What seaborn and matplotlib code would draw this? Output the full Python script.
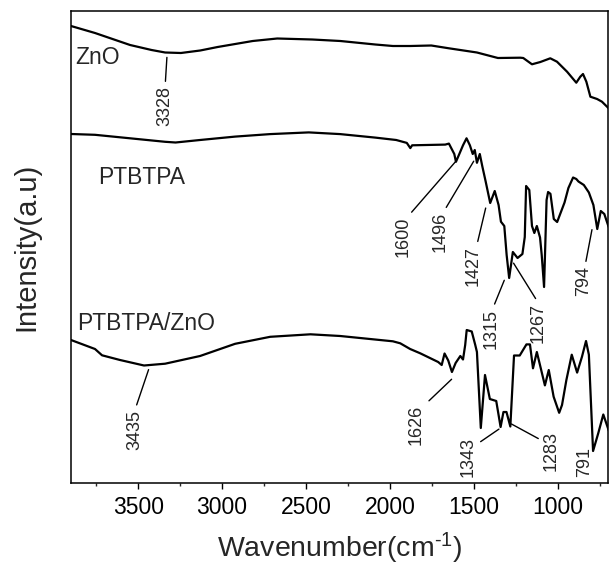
import numpy as np
import pandas as pd
import matplotlib
matplotlib.use("Agg")
import matplotlib.pyplot as plt
from matplotlib.ticker import MultipleLocator
import seaborn as sns

# FTIR spectra (wavenumber in cm^-1, stacked intensity in a.u.)
zno_wn = [3900, 3757, 3548, 3420, 3339, 3245, 3130, 3026, 2817, 2671, 2462, 2295,
          2087, 1982, 1878, 1753, 1648, 1481, 1356, 1223, 1205, 1153, 1103, 1044,
          1004, 944, 889, 865, 849, 829, 805, 765, 736, 696]
zno_int = [457, 450, 438, 433, 430.5, 430, 432.5, 436, 442, 444.5, 443.5, 442,
           438.5, 437, 437, 437.5, 434.7, 430.5, 425, 425.3, 425, 418.7, 421, 424.7,
           421.3, 411.3, 400.3, 406.3, 409, 401.3, 386.3, 384, 381.3, 374.7]

ptbtpa_wn = [3900, 3757, 3548, 3339, 3277, 3131, 2922, 2713, 2483, 2296, 2087, 1962,
             1899, 1878, 1867, 1670, 1648, 1616, 1606, 1586, 1564, 1543, 1523, 1506,
             1494, 1481, 1464, 1449, 1429, 1402, 1375, 1352, 1338, 1318, 1304, 1289,
             1267, 1239, 1210, 1196, 1188, 1169, 1153, 1139, 1124, 1105, 1095, 1081,
             1066, 1057, 1043, 1023, 1003, 959, 936, 908, 889, 876, 844, 814,
             787, 764, 743, 722, 696]
ptbtpa_int = [349, 348.2, 344.7, 341.2, 340.5, 343, 346.4, 348.9, 350.6, 348.9, 345.4, 343,
              340.1, 334.9, 337.7, 338.4, 339.4, 329, 321.2, 329, 337.7, 344.7, 337.7, 329,
              333, 320.2, 329, 316.7, 301.5, 280, 292, 278, 261.3, 257, 228, 205,
              231, 225, 229, 246, 297, 293, 257, 250, 257, 245.5, 228, 196,
              283, 291, 289.2, 264, 261, 280.5, 295, 305.5, 304, 301.5, 298, 290.5,
              278, 254, 272, 269, 256]

composite_wn = [3900, 3757, 3715, 3608, 3465, 3339, 3131, 2922, 2713, 2473, 2296, 1982,
                1938, 1879, 1819, 1712, 1691, 1674, 1652, 1630, 1608, 1580, 1564, 1551,
                1542, 1512, 1491, 1481, 1458, 1433, 1404, 1366, 1340, 1323, 1305, 1282,
                1260, 1226, 1186, 1165, 1147, 1124, 1076, 1053, 1024, 991, 974, 948,
                916, 884, 855, 831, 814, 789, 758, 728, 695]
composite_int = [143, 134, 127.7, 123, 117.5, 119.3, 127, 139.2, 146.2, 148.7, 147, 141.7,
                 139.7, 134, 129.7, 121, 118, 129.5, 122.5, 111, 120, 127, 123.5, 138,
                 153, 151.5, 138, 131, 55, 108, 84, 82, 56, 71, 71, 56.5,
                 127.5, 127.5, 138.6, 138.6, 114.7, 131, 97.6, 113, 86.3, 70.2, 78, 103,
                 128.3, 110.4, 126.3, 142, 128.3, 32, 49.8, 68.5, 52.2]

sample_names = ["ZnO", "PTBTPA", "PTBTPA/ZnO"]

# Peak labels: text, peak wavenumber, intensity at the pointed spot,
# label centre (wavenumber, intensity) and where the leader leaves the label
peak_labels = ["3328", "1600", "1496", "1427", "1315", "1267", "794",
               "3435", "1626", "1343", "1283", "791"]
peak_wn = [3328, 1600, 1496, 1427, 1315, 1267, 794, 3435, 1626, 1343, 1283, 791]
peak_int = [427, 323, 323, 276.3, 204, 221, 254.7, 114.7, 104.7, 54.7, 59.7, 32]
label_wn = [3339, 1923, 1700, 1503, 1397, 1115, 847, 3518, 1843, 1536, 1038, 841]
label_int = [377, 246.3, 251, 217, 154.4, 160, 202, 53.5, 58, 26.3, 32, 21.3]
leader_from = [(0.5, 1), (0.8, 1), (0.7, 1), (0.7, 1), (0.6, 1), (0.5, 1), (0.6, 1),
               (0.5, 1), (1, 1), (1, 0.8), (0, 0.75), None]

frames = []
for name, wn, inten in zip(sample_names,
                           [zno_wn, ptbtpa_wn, composite_wn],
                           [zno_int, ptbtpa_int, composite_int]):
    frames.append(pd.DataFrame({"wavenumber": wn, "intensity": inten, "sample": name}))
spectra = pd.concat(frames, ignore_index=True)

sns.set_theme(style="ticks")
plt.rcParams["font.family"] = ["Liberation Sans", "DejaVu Sans"]
plt.rcParams["mathtext.fontset"] = "custom"
plt.rcParams["mathtext.rm"] = "Liberation Sans"
plt.rcParams["mathtext.default"] = "regular"

fig = plt.figure(figsize=(6.09, 5.68), dpi=100)
ax = fig.add_axes([71 / 609, 85 / 568, 537 / 609, 472 / 568])

sns.lineplot(data=spectra, x="wavenumber", y="intensity", hue="sample",
             units="sample", estimator=None, sort=False,
             palette=["black"] * 3, linewidth=1.6, legend=False, ax=ax)

ax.set_xlim(3900, 700)
ax.set_ylim(0, 472)
ax.set_yticks([])
ax.xaxis.set_major_locator(MultipleLocator(500))
ax.xaxis.set_minor_locator(MultipleLocator(250))
ax.tick_params(axis="x", which="major", direction="out", length=4.5, width=1,
               labelsize=16.5, pad=5, colors="black")
ax.tick_params(axis="x", which="minor", direction="out", length=2.5, width=1)
for side in ["left", "right", "top", "bottom"]:
    ax.spines[side].set_visible(True)
    ax.spines[side].set_color("black")
    ax.spines[side].set_linewidth(1.1)

ax.set_xlabel(r"Wavenumber(cm$^{\text{-}1}$)", fontsize=20.5, labelpad=8)
ax.set_ylabel("Intensity(a.u)", fontsize=21, labelpad=22)

# sample names
ax.text(3876, 426, "ZnO", fontsize=16.5, ha="left", va="center")
ax.text(3739, 306, "PTBTPA", fontsize=16.5, ha="left", va="center")
ax.text(3861, 160, "PTBTPA/ZnO", fontsize=16.5, ha="left", va="center")

# peak annotations
for txt, px, py, tx, ty, rel in zip(peak_labels, peak_wn, peak_int,
                                    label_wn, label_int, leader_from):
    if rel is None:
        ax.text(tx, ty, txt, rotation=90, fontsize=13, ha="center", va="center")
    else:
        ax.annotate(txt, xy=(px, py), xytext=(tx, ty), rotation=90, fontsize=13,
                    ha="center", va="center",
                    arrowprops=dict(arrowstyle="-", color="black", lw=1,
                                    relpos=rel, shrinkA=1, shrinkB=1))

fig.savefig("out.png", dpi=100)
